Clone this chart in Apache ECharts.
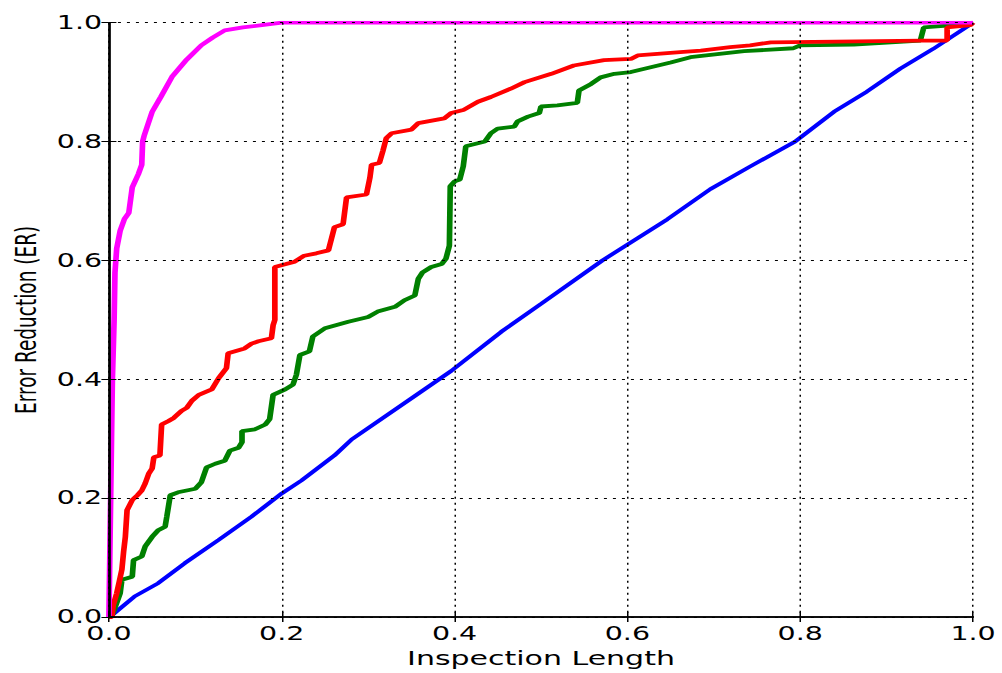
<!DOCTYPE html>
<html><head><meta charset="utf-8">
<script src="https://cdn.jsdelivr.net/npm/echarts@6/dist/echarts.min.js"></script>
<style>
html,body{margin:0;padding:0;background:#fff;overflow:hidden;}
#chart{width:668px;height:673px;transform:scaleX(1.5);transform-origin:0 0;}
</style></head><body><div id="chart"></div>
<script>
const xTicks = [0, 0.2, 0.4, 0.6, 0.8, 1.0];
const yTicks = [0, 0.2, 0.4, 0.6, 0.8, 1.0];
const xTitle = 'Inspection Length';
const yTitle = 'Error Reduction (ER)';

const blueData = [[0,0],[0.005,0.005],[0.03,0.035],[0.057,0.057],[0.088,0.091],[0.127,0.130],[0.165,0.169],[0.2,0.208],[0.223,0.230],[0.261,0.272],[0.281,0.299],[0.354,0.372],[0.396,0.414],[0.454,0.480],[0.5,0.527],[0.571,0.6],[0.646,0.669],[0.696,0.720],[0.742,0.758],[0.794,0.8],[0.839,0.850],[0.877,0.884],[0.916,0.923],[0.954,0.956],[1,1]];

const greenData = [[0,0],[0.0035,0.002],[0.008,0.02],[0.013,0.04],[0.015,0.063],[0.027,0.068],[0.0285,0.096],[0.038,0.102],[0.042,0.119],[0.05,0.135],[0.057,0.146],[0.065,0.152],[0.067,0.169],[0.071,0.205],[0.08,0.21],[0.1,0.216],[0.107,0.227],[0.113,0.252],[0.123,0.258],[0.134,0.263],[0.14,0.28],[0.15,0.285],[0.154,0.294],[0.154,0.313],[0.169,0.316],[0.181,0.324],[0.186,0.333],[0.19,0.374],[0.204,0.383],[0.213,0.391],[0.217,0.408],[0.221,0.441],[0.232,0.447],[0.236,0.472],[0.25,0.486],[0.277,0.497],[0.3,0.505],[0.311,0.514],[0.331,0.522],[0.342,0.533],[0.354,0.541],[0.358,0.569],[0.363,0.58],[0.373,0.589],[0.385,0.594],[0.39,0.603],[0.394,0.625],[0.395,0.725],[0.4,0.733],[0.406,0.736],[0.41,0.758],[0.413,0.792],[0.435,0.8],[0.442,0.814],[0.45,0.822],[0.469,0.825],[0.473,0.834],[0.485,0.842],[0.498,0.848],[0.5,0.859],[0.519,0.861],[0.542,0.865],[0.544,0.886],[0.558,0.897],[0.569,0.908],[0.585,0.914],[0.604,0.917],[0.627,0.925],[0.65,0.933],[0.673,0.942],[0.704,0.947],[0.735,0.952],[0.792,0.957],[0.8,0.962],[0.862,0.963],[0.939,0.970],[0.943,0.992],[0.97,0.995],[1,1]];

const redData = [[0,0],[0.0035,0.0],[0.005,0.02],[0.009,0.04],[0.012,0.06],[0.015,0.08],[0.017,0.11],[0.019,0.135],[0.021,0.18],[0.027,0.197],[0.033,0.205],[0.038,0.213],[0.042,0.225],[0.046,0.241],[0.05,0.25],[0.052,0.269],[0.059,0.272],[0.061,0.324],[0.069,0.33],[0.075,0.335],[0.084,0.347],[0.09,0.352],[0.096,0.364],[0.104,0.374],[0.119,0.383],[0.127,0.402],[0.136,0.419],[0.138,0.444],[0.157,0.452],[0.165,0.46],[0.173,0.464],[0.188,0.469],[0.190,0.491],[0.192,0.5],[0.192,0.589],[0.205,0.594],[0.215,0.598],[0.226,0.608],[0.24,0.612],[0.254,0.617],[0.261,0.656],[0.271,0.661],[0.275,0.706],[0.298,0.711],[0.302,0.739],[0.304,0.761],[0.313,0.764],[0.317,0.784],[0.321,0.806],[0.327,0.814],[0.35,0.820],[0.358,0.831],[0.388,0.839],[0.396,0.848],[0.41,0.853],[0.427,0.867],[0.442,0.875],[0.465,0.889],[0.481,0.9],[0.512,0.914],[0.538,0.928],[0.573,0.937],[0.604,0.939],[0.612,0.945],[0.665,0.951],[0.685,0.953],[0.719,0.959],[0.742,0.962],[0.766,0.967],[0.939,0.970],[0.970,0.970],[0.970,0.992],[0.997,0.996],[1,1]];

const magentaData = [[0,0],[0.001,0.1],[0.002,0.2],[0.003,0.3],[0.004,0.4],[0.006,0.5],[0.007,0.58],[0.009,0.62],[0.013,0.65],[0.018,0.67],[0.023,0.68],[0.027,0.723],[0.034,0.745],[0.038,0.761],[0.039,0.80],[0.041,0.811],[0.05,0.85],[0.06,0.875],[0.073,0.909],[0.09,0.938],[0.107,0.962],[0.12,0.975],[0.134,0.987],[0.155,0.992],[0.177,0.996],[0.2,1],[1,1]];

const chart = echarts.init(document.getElementById('chart'), null, {renderer: 'svg'});
const FONT = 'DejaVu Sans';
const fmt = v => v.toFixed(1);
const tickStyle = {show: true, inside: true, length: 5, lineStyle: {color: '#000', width: 1}};
const lineAx = {show: true, lineStyle: {color: '#000', width: 1.5}};
const gridLine = {show: true, lineStyle: {color: '#000', width: 1, type: [2, 4]}};

function mkSeries(data, color, width) {
  return {type: 'line', data: data, showSymbol: false, symbol: 'none', clip: true,
    lineStyle: {color: color, width: width}, itemStyle: {color: color}, z: 2};
}

chart.setOption({
  animation: false,
  backgroundColor: '#fff',
  grid: {left: 71.1, right: 19.3, top: 22.7, bottom: 51.3, containLabel: false},
  xAxis: [
    {type: 'value', min: xTicks[0], max: xTicks[xTicks.length-1], interval: 0.2, position: 'bottom', z: 10,
     axisLine: lineAx, axisTick: tickStyle, splitLine: gridLine,
     axisLabel: {formatter: fmt, fontFamily: FONT, fontSize: 19, color: '#000', margin: 7},
     name: xTitle, nameLocation: 'middle', nameGap: 29,
     nameTextStyle: {fontFamily: FONT, fontSize: 20, color: '#000'}},
    {type: 'value', min: xTicks[0], max: xTicks[xTicks.length-1], interval: 0.2, position: 'top', z: 10,
     axisLine: lineAx, axisTick: tickStyle, splitLine: {show: false}, axisLabel: {show: false}}
  ],
  yAxis: [
    {type: 'value', min: yTicks[0], max: yTicks[yTicks.length-1], interval: 0.2, position: 'left', z: 10,
     axisLine: lineAx, axisTick: tickStyle, splitLine: gridLine,
     axisLabel: {formatter: fmt, fontFamily: FONT, fontSize: 19, color: '#000', margin: 4.5},
     name: yTitle, nameLocation: 'middle', nameGap: 44, nameRotate: 90,
     nameTextStyle: {fontFamily: FONT, fontSize: 18.5, color: '#000'}},
    {type: 'value', min: yTicks[0], max: yTicks[yTicks.length-1], interval: 0.2, position: 'right', z: 10,
     axisLine: lineAx, axisTick: tickStyle, splitLine: {show: false}, axisLabel: {show: false}}
  ],
  series: [
    mkSeries(blueData, '#0000ff', 3.4),
    mkSeries(greenData, '#008000', 3.8),
    mkSeries(redData, '#ff0000', 3.8),
    mkSeries(magentaData, '#ff00ff', 3.8)
  ]
});
</script></body></html>
